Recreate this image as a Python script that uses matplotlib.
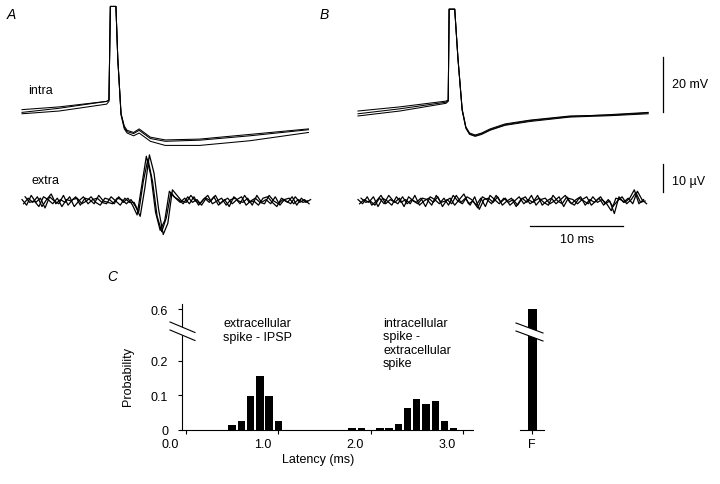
import numpy as np
import matplotlib
matplotlib.use('Agg')
import matplotlib.pyplot as plt
import matplotlib.transforms as mtransforms
from matplotlib.lines import Line2D
from matplotlib.patches import Polygon

plt.rcParams['font.family'] = ['Liberation Sans', 'DejaVu Sans']

W, H = 720, 485

# intracellular sweeps (time in ms, membrane potential in mV)
intra_a_t = [0, 4, 9.1, 9.35, 9.5, 10.1, 10.3, 10.65, 11.0, 11.3, 12.0, 12.6,
             13.0, 13.8, 15.4, 19.1, 24.5, 30.8]
intra_a = [
    [-60.5, -59, -56.5, -56, -22, -22, -41, -61, -65.5, -67, -67.8, -66.5,
     -67.5, -69.5, -70.5, -70.2, -68.5, -66.5],
    [-59.5, -58.5, -56.5, -56, -22, -22, -41, -61, -66, -67.5, -68.2, -67,
     -68, -70, -71, -70.6, -69, -66.8],
    [-61, -60, -57.5, -56.5, -22, -22, -41, -61.5, -66.5, -68, -69, -68,
     -69, -71, -72.5, -72.5, -70.8, -67.8],
]
intra_b_t = [0, 4.5, 9.46, 9.7, 9.8, 10.4, 10.75, 11.2, 11.6, 12.0, 12.6,
             13.3, 14.2, 15.8, 18.5, 22.8, 27.1, 31.2]
intra_b = [
    [-60, -58.5, -56.4, -56, -23, -23, -41, -59.3, -65.8, -68, -68.7,
     -68, -66.5, -64.7, -63.3, -61.8, -61.5, -60.7],
    [-61, -59.2, -56.8, -56.2, -23, -23, -41, -59.5, -66, -68.3, -69,
     -68.2, -66.8, -65, -63.5, -62, -61.3, -60.5],
    [-61.8, -60, -57.2, -56.5, -23, -23, -41, -59.8, -66.3, -68.5, -69.2,
     -68.5, -67, -65.2, -63.8, -62.2, -61.7, -61],
]

# extracellular sweeps (uV), one sample every 0.5 ms over 31 ms,
# each sweep digitised with a small start offset (ms)
extra_offsets = [0.0, 0.17, 0.33]
extra_a = [
    [0.5, -1.5, 2.0, -0.5, 1.0, -2.5, 1.5, 0.0, -1.0, 2.0, -1.5, 0.5, 1.0,
     -1.0, 0.0, 1.5, -0.5, -1.5, 1.0, 0.5, -1.0, 1.5, -0.5, 1.0,
     -1.5, -5.0, 5.5, 16.0, 9.0, -4.0, -10.5, -7.0, 3.5, 1.5, 0.5,
     -1.0, 1.5, -0.5, 0.5, -1.5, 1.0, 0.0, 2.0, -1.0, 0.5, -2.0, 1.5, 0.0,
     -0.5, 1.0, -1.5, 2.0, -0.5, 0.5, -1.0, 1.5, -1.5, 0.5, 1.0, -1.0, 0.5,
     -0.5, 0.0],
    [-1.0, 1.0, -0.5, 1.5, -2.0, 0.5, 2.5, -1.0, 0.5, -0.5, 1.5, -2.0, 0.0,
     1.5, -1.0, 0.5, 1.0, -0.5, -1.0, 1.5, 0.0, -1.5, 1.0, -0.5,
     -0.5, -4.0, 7.0, 15.0, 7.0, -5.5, -11.0, -6.0, 3.0, 1.0, -0.5,
     1.0, -1.0, 1.5, -1.5, 0.5, 2.0, -1.0, 0.0, 1.0, -1.5, 0.5, 1.0, -1.0,
     2.0, -0.5, 0.0, -1.5, 1.0, 1.5, -0.5, -2.0, 1.0, 0.0, -1.0, 1.5, -0.5,
     0.5, -1.0],
    [1.5, -0.5, 0.0, -2.0, 1.5, 0.5, -1.0, 1.0, -2.0, 0.5, 0.0, 1.5, -1.5,
     1.0, 0.5, -1.0, 2.0, 0.0, -0.5, -1.0, 1.0, 0.5, -1.0, 0.5,
     -2.0, -5.5, 4.5, 16.5, 10.0, -3.0, -12.0, -8.0, 4.0, 2.0, 0.0,
     -0.5, 2.0, 0.0, -1.0, 1.0, -0.5, 1.5, -1.5, 0.0, 1.0, -1.0, 0.5, 1.5,
     -1.5, 0.0, 1.0, -0.5, -1.0, 2.0, 0.0, -1.0, 0.5, -0.5, 1.5, -1.5, 1.0,
     -0.5, 0.5],
]
extra_b = [
    [0.5, -1.0, 1.5, -1.5, 0.0, 2.0, -1.0, 0.5, -0.5, 1.0, -2.0, 1.5, 0.0,
     -1.0, 1.0, 0.5, -1.5, 2.0, -0.5, 0.0, 1.0, -1.5, 0.5, 2.5, -1.0, 0.0,
     -2.5, 1.5, 0.5, -1.0, 2.0, -0.5, 1.0, -1.5, 0.0, 1.5, -1.0, 0.5, -0.5,
     2.0, -1.5, 0.0, 1.0, -1.0, 0.5, 2.0, -0.5, -1.5, 1.0, 0.0, -1.0, 1.5,
     -0.5, 0.5, -1.0, -3.5, 1.0, 0.5, -0.5, 1.0, 4.0, -1.0, 0.5],
    [-1.0, 0.5, -0.5, 1.5, -2.0, 1.0, 0.0, -1.5, 1.5, -0.5, 0.5, -1.0, 2.0,
     -1.5, 0.0, 1.0, -0.5, 1.5, -2.0, 0.5, -1.0, 2.0, -0.5, 1.0, -1.5, 1.5,
     -3.0, 0.5, 1.0, -0.5, 1.5, -1.5, 0.0, 1.0, -2.0, 0.5, 1.5, -1.0, 0.0,
     1.0, -0.5, -1.5, 2.0, 0.0, -1.0, 1.5, -1.0, 0.5, 1.5, -1.5, 0.5, -0.5,
     1.0, -1.5, 0.5, -2.0, 0.0, 1.5, -1.0, 0.5, 3.0, -0.5, 0.0],
    [1.0, -0.5, 0.0, -1.5, 1.0, -1.0, 2.0, 0.0, -1.0, 1.5, -1.0, 0.5, -0.5,
     1.0, -2.0, 1.5, 0.5, -1.0, 1.0, -1.5, 2.0, 0.0, -1.0, 1.5, 0.5, -1.5,
     1.0, -2.0, 2.0, 0.5, -1.0, 1.0, -0.5, 0.5, -1.5, 1.0, -0.5, 2.0, -1.5,
     0.5, 1.0, -1.0, 0.0, 1.5, -2.0, 1.0, 0.5, -1.0, 0.5, 1.5, -1.5, 0.0,
     1.5, -1.0, 0.0, -4.5, 1.5, -0.5, 1.0, -1.0, 3.5, 0.5, -1.0],
]

# latency histogram (C)
lat_bins = [0.5, 0.6, 0.7, 0.8, 0.9, 1.0, 1.8, 1.9, 2.1, 2.2, 2.3, 2.4,
            2.5, 2.6, 2.7, 2.8, 2.9]
lat_prob = [0.014, 0.026, 0.099, 0.156, 0.099, 0.027, 0.005, 0.005, 0.005,
            0.005, 0.016, 0.065, 0.089, 0.076, 0.083, 0.027, 0.007]
fail_pos = 3.75
fail_prob = 0.6
lat_ticks = [0.0, 1.0, 2.0, 3.0, fail_pos]
lat_ticklabels = ['0.0', '1.0', '2.0', '3.0', 'F']
prob_ticks = [0, 0.1, 0.2, 0.6]
prob_ticklabels = ['0', '0.1', '0.2', '0.6']

fig = plt.figure(figsize=(W / 100, H / 100), dpi=100)


def px_axes(left, top, right, bottom):
    return fig.add_axes([left / W, 1 - bottom / H, (right - left) / W, (bottom - top) / H])


def ftext(x, y, s, **kw):
    fig.text(x / W, 1 - y / H, s, **kw)


def fline(xs, ys, **kw):
    fig.add_artist(Line2D([x / W for x in xs], [1 - y / H for y in ys],
                          transform=fig.transFigure, color='black', lw=0.8, **kw))


def draw_break(x0, x1, ya, yb, dy):
    pts = [(x0, ya), (x1, ya + dy), (x1, yb + dy), (x0, yb)]
    fig.add_artist(Polygon([(x / W, 1 - y / H) for x, y in pts], closed=True,
                           transform=fig.transFigure, facecolor='white',
                           edgecolor='none', zorder=5))
    fline([x0, x1], [ya, ya + dy], zorder=6)
    fline([x0, x1], [yb, yb + dy], zorder=6)


def trace_axes(left, top, bottom, ylim):
    ax = px_axes(left, top, left + 31.2 * 9.3, bottom)
    ax.set_xlim(0, 31.2)
    ax.set_ylim(*ylim)
    ax.axis('off')
    return ax


intra_lim = (-73.8, -19.3)
extra_lim = (-15.4, 18.6)

ax_ai = trace_axes(22, 0, 150, intra_lim)
ax_ae = trace_axes(22, 150, 245, extra_lim)
ax_bi = trace_axes(358, 0, 150, intra_lim)
ax_be = trace_axes(358, 150, 245, extra_lim)

for v in intra_a:
    ax_ai.plot(intra_a_t, v, color='black', lw=0.75, clip_on=False)
for v in intra_b:
    ax_bi.plot(intra_b_t, v, color='black', lw=0.75, clip_on=False)
for ax, sweeps in [(ax_ae, extra_a), (ax_be, extra_b)]:
    for off, v in zip(extra_offsets, sweeps):
        t = np.linspace(off, 30.7 + off, len(v))
        ax.plot(t, v, color='black', lw=0.9, clip_on=False)

# scale bars
ax_bi.plot([32.8, 32.8], [-60.4, -40.4], color='black', lw=0.9, clip_on=False)
ax_be.plot([32.8, 32.8], [3.2, 13.2], color='black', lw=0.9, clip_on=False)
ax_be.plot([18.5, 28.5], [-8.9, -8.9], color='black', lw=0.9, clip_on=False)

ftext(672, 85, '20 mV', fontsize=9, va='center')
ftext(672, 182, '10 µV', fontsize=9, va='center')
ftext(577, 240, '10 ms', fontsize=9, va='center', ha='center')
ftext(28, 91, 'intra', fontsize=9, va='center')
ftext(31, 181, 'extra', fontsize=9, va='center')

ftext(11, 15, 'A', fontsize=10, style='italic', ha='center', va='center')
ftext(324, 15, 'B', fontsize=10, style='italic', ha='center', va='center')
ftext(112, 277, 'C', fontsize=10, style='italic', ha='center', va='center')

# histogram with a broken probability axis
ax_h = px_axes(182, 305, 550.6, 431)


def squash(v):
    return np.interp(v, [0, 0.26, 0.55, 1.0], [0, 0.26, 0.30, 0.75])


def unsquash(u):
    return np.interp(u, [0, 0.26, 0.30, 0.75], [0, 0.26, 0.55, 1.0])


ax_h.set_yscale('function', functions=(squash, unsquash))
ax_h.bar(lat_bins, lat_prob, width=0.08, color='black')
ax_h.bar([fail_pos], [fail_prob], width=0.1, color='black')
ax_h.set_xlim(-0.043, 3.95)
ax_h.set_ylim(0, 0.615)
ax_h.set_xticks(lat_ticks)
ax_h.set_xticklabels(lat_ticklabels, fontsize=9)
ax_h.set_yticks(prob_ticks)
ax_h.set_yticklabels(prob_ticklabels, fontsize=9)
ax_h.yaxis.set_minor_locator(matplotlib.ticker.NullLocator())
ax_h.tick_params(direction='out', length=3, width=0.8)
ax_h.tick_params(axis='x', pad=3)
ax_h.tick_params(axis='y', pad=7)
# numeric latency labels sit a little left of their ticks in the original
shift = mtransforms.ScaledTranslation(-0.16, 0, fig.dpi_scale_trans)
for lbl in ax_h.get_xticklabels()[:4]:
    lbl.set_transform(lbl.get_transform() + shift)
for side in ['top', 'right']:
    ax_h.spines[side].set_visible(False)
ax_h.spines['bottom'].set_bounds(-0.043, 3.11)
ax_h.plot([3.62, 3.88], [0, 0], color='black', lw=0.8, clip_on=False)
ax_h.patch.set_visible(False)

draw_break(170, 195, 323, 331, 10.5)
draw_break(516, 543, 324, 332, 10)

ftext(128, 377, 'Probability', fontsize=9, rotation=90, ha='center', va='center')
ftext(318, 460, 'Latency (ms)', fontsize=9, ha='center', va='center')
ftext(223, 318, 'extracellular\nspike - IPSP', fontsize=9, va='top', linespacing=1.2)
ftext(383, 318, 'intracellular\nspike -\nextracellular\nspike', fontsize=9,
      va='top', linespacing=1.15)

fig.savefig('out.png', dpi=100)
